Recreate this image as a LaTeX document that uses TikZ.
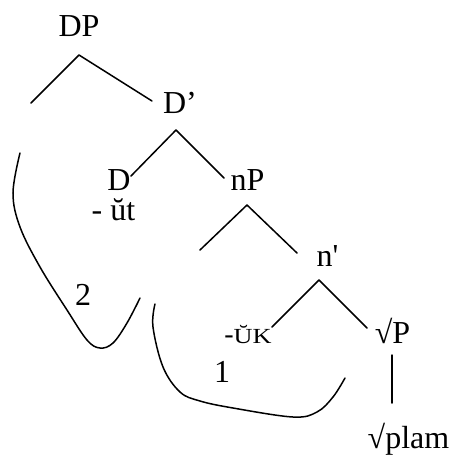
\documentclass[tikz,border=0pt]{standalone}
\usepackage{fontspec}
\setmainfont{Liberation Serif}
\begin{document}
\begin{tikzpicture}[x=1pt,y=1pt,
  lbl/.style={inner sep=0pt,anchor=base,font=\fontsize{32}{36}\selectfont},
  sml/.style={inner sep=0pt,anchor=base,font=\fontsize{21.5}{24}\selectfont},
  branch/.style={line width=1.5pt,line cap=round,line join=round},
  arc/.style={line width=1.5pt,line cap=round}]
\useasboundingbox (0,0) rectangle (455,-466);
% labels
\node[lbl] (DP) at (79,-36) {DP};
\node[lbl] (Dbar) at (180,-113) {D’};
\node[lbl] (D) at (119,-190) {D};
\node[lbl] (ut) at (113.5,-220) {- ŭt};
\node[lbl] (nP) at (247.5,-190) {nP};
\node[lbl] (nbar) at (327.5,-266) {n\textquotesingle};
\node[sml] (uk) at (248,-343) {{\fontsize{28}{30}\selectfont -}\scalebox{1.22}[1]{ŬK}};
\node[lbl] (rootP) at (392.5,-343) {√P};
\node[lbl] (plam) at (408.5,-448) {√plam};
\node[lbl] (one) at (222,-382) {1};
\node[lbl] (two) at (83,-305) {2};
% branch points
\coordinate (DPa) at (79,-55);
\coordinate (DPl) at (31,-103);
\coordinate (DPr) at (152,-101);
\coordinate (Dba) at (176,-130);
\coordinate (Dbl) at (131,-176);
\coordinate (Dbr) at (224,-178);
\coordinate (nPa) at (247,-205);
\coordinate (nPl) at (200,-250);
\coordinate (nPr) at (297,-253);
\coordinate (nba) at (319,-280);
\coordinate (nbl) at (272,-327);
\coordinate (nbr) at (367,-328);
\coordinate (rPt) at (392,-355);
\coordinate (rPb) at (392,-403);
\draw[branch] (DPl) -- (DPa) -- (DPr);
\draw[branch] (Dbl) -- (Dba) -- (Dbr);
\draw[branch] (nPl) -- (nPa) -- (nPr);
\draw[branch] (nbl) -- (nba) -- (nbr);
\draw[branch] (rPt) -- (rPb);
% movement curves
\draw[arc] plot[smooth,tension=0.6] coordinates {(20,-153) (13,-193) (20,-227) (40,-267) (67,-310) (87,-340) (100,-348) (113,-343) (127,-323) (140,-298)};
\draw[arc] plot[smooth,tension=0.6] coordinates {(155,-304) (153,-327) (163,-367) (180,-392) (200,-401) (233,-408) (293,-417) (317,-412) (333,-397) (345,-378)};
\end{tikzpicture}
\end{document}
